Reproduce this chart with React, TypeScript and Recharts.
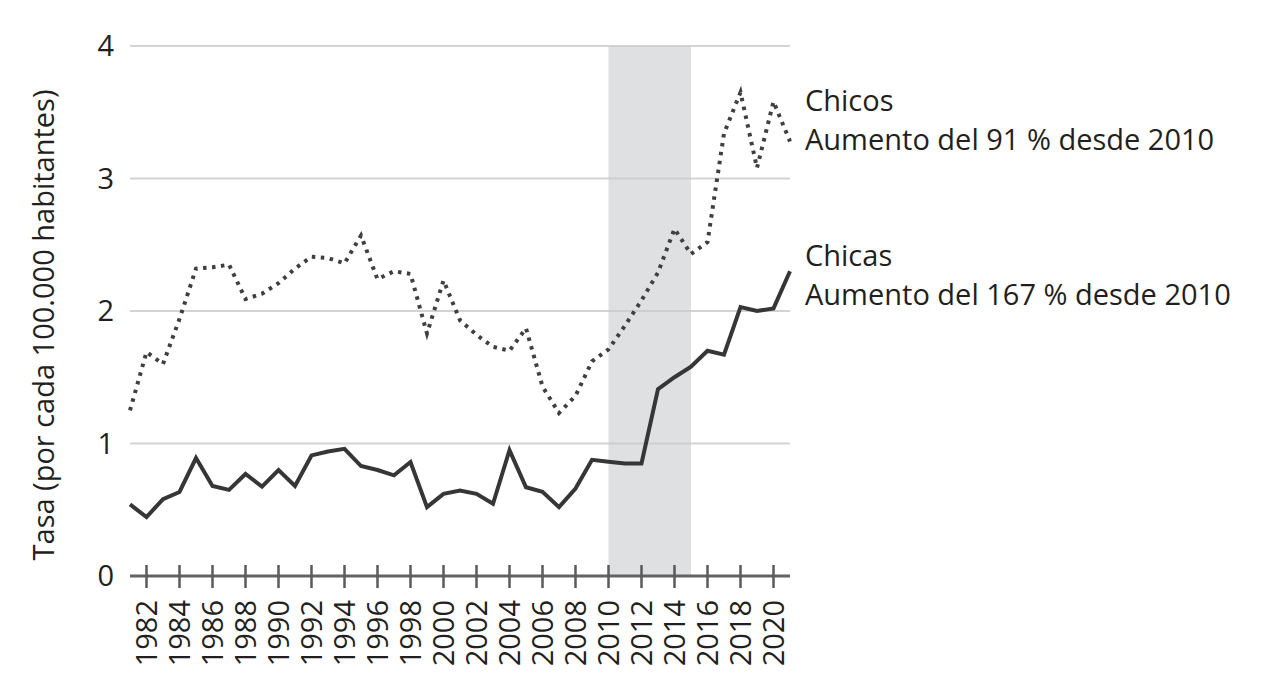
import React from 'react';
import { LineChart, Line, XAxis, YAxis, CartesianGrid, ReferenceArea, Label } from 'recharts';

const years = [1981,1982,1983,1984,1985,1986,1987,1988,1989,1990,1991,1992,1993,1994,1995,1996,1997,1998,1999,2000,2001,2002,2003,2004,2005,2006,2007,2008,2009,2010,2011,2012,2013,2014,2015,2016,2017,2018,2019,2020,2021];
const chicos = [1.25,1.69,1.6,1.94,2.32,2.33,2.35,2.09,2.13,2.21,2.32,2.41,2.4,2.36,2.57,2.24,2.3,2.28,1.83,2.23,1.93,1.82,1.73,1.7,1.87,1.43,1.23,1.36,1.62,1.71,1.89,2.08,2.29,2.62,2.43,2.52,3.34,3.65,3.08,3.58,3.28];
const chicas = [0.54,0.445,0.58,0.634,0.89,0.68,0.65,0.77,0.674,0.8,0.68,0.91,0.94,0.96,0.83,0.8,0.76,0.86,0.52,0.62,0.645,0.62,0.545,0.95,0.67,0.635,0.52,0.66,0.877,0.863,0.85,0.85,1.41,1.5,1.58,1.7,1.67,2.03,2.0,2.02,2.3];
const xTicks = [1982,1984,1986,1988,1990,1992,1994,1996,1998,2000,2002,2004,2006,2008,2010,2012,2014,2016,2018,2020];
const yTicks = [0,1,2,3,4];
const shadeStart = 2010;
const shadeEnd = 2015;
const yLabel = 'Tasa (por cada 100.000 habitantes)';
const notes = [
  { title: 'Chicos', sub: 'Aumento del 91 % desde 2010' },
  { title: 'Chicas', sub: 'Aumento del 167 % desde 2010' },
];

const data = years.map((y, i) => ({ year: y, chicos: chicos[i], chicas: chicas[i] }));

const FONT = '"Open Sans", "Noto Sans", sans-serif';
const TEXT = '#231f20';

const XTick = (props: any) => {
  const { x, y, payload } = props;
  return (
    <g>
      <line x1={x} x2={x} y1={y - 11} y2={y + 12} stroke="#5a5a5a" strokeWidth={2.5} />
      <text
        transform={`translate(${x},${y + 24}) rotate(-90)`}
        textAnchor="end"
        dy="0.36em"
        fontSize={29}
        fontFamily={FONT}
        fill={TEXT}
      >
        {payload.value}
      </text>
    </g>
  );
};

const YTick = (props: any) => {
  const { x, y, payload } = props;
  return (
    <text x={x} y={y} dy="0.36em" textAnchor="end" fontSize={29} fontFamily={FONT} fill={TEXT}>
      {payload.value}
    </text>
  );
};

export default function App() {
  return (
    <div style={{ position: 'absolute', left: 0, top: 0, width: 1266, height: 700, background: '#fff' }}>
      <LineChart width={1266} height={700} data={data} margin={{ top: 46, right: 476, bottom: 24, left: 0 }}>
        <CartesianGrid vertical={false} stroke="#d3d3d3" strokeWidth={2} />
        <ReferenceArea x1={shadeStart} x2={shadeEnd} y1={0} y2={4} fill="#c9cbcf" fillOpacity={0.6} stroke="none" ifOverflow="hidden" />
        <XAxis
          dataKey="year"
          type="number"
          domain={[1981, 2021]}
          ticks={xTicks}
          interval={0}
          height={100}
          tickSize={0}
          tickMargin={0}
          tickLine={false}
          axisLine={{ stroke: '#636363', strokeWidth: 3 }}
          tick={<XTick />}
        />
        <YAxis
          domain={[0, 4]}
          ticks={yTicks}
          width={130}
          axisLine={false}
          tickLine={false}
          tickSize={0}
          tickMargin={16}
          tick={<YTick />}
        >
          <Label
            content={() => (
              <text
                transform="translate(44,325) rotate(-90)"
                textAnchor="middle"
                dy="0.36em"
                fontSize={29}
                fontFamily={FONT}
                fill={TEXT}
              >
                {yLabel}
              </text>
            )}
          />
        </YAxis>
        <Line dataKey="chicos" type="linear" stroke="#3f3f3f" strokeWidth={4} strokeDasharray="3.5 5.5" dot={false} isAnimationActive={false} />
        <Line dataKey="chicas" type="linear" stroke="#363636" strokeWidth={4} dot={false} isAnimationActive={false} />
      </LineChart>
      {notes.map((n, i) => (
        <div
          key={n.title}
          style={{
            position: 'absolute',
            left: 805,
            top: i === 0 ? 80 : 235,
            fontFamily: FONT,
            fontSize: 29,
            lineHeight: '39px',
            color: TEXT,
            whiteSpace: 'nowrap',
          }}
        >
          <div>{n.title}</div>
          <div>{n.sub}</div>
        </div>
      ))}
    </div>
  );
}
